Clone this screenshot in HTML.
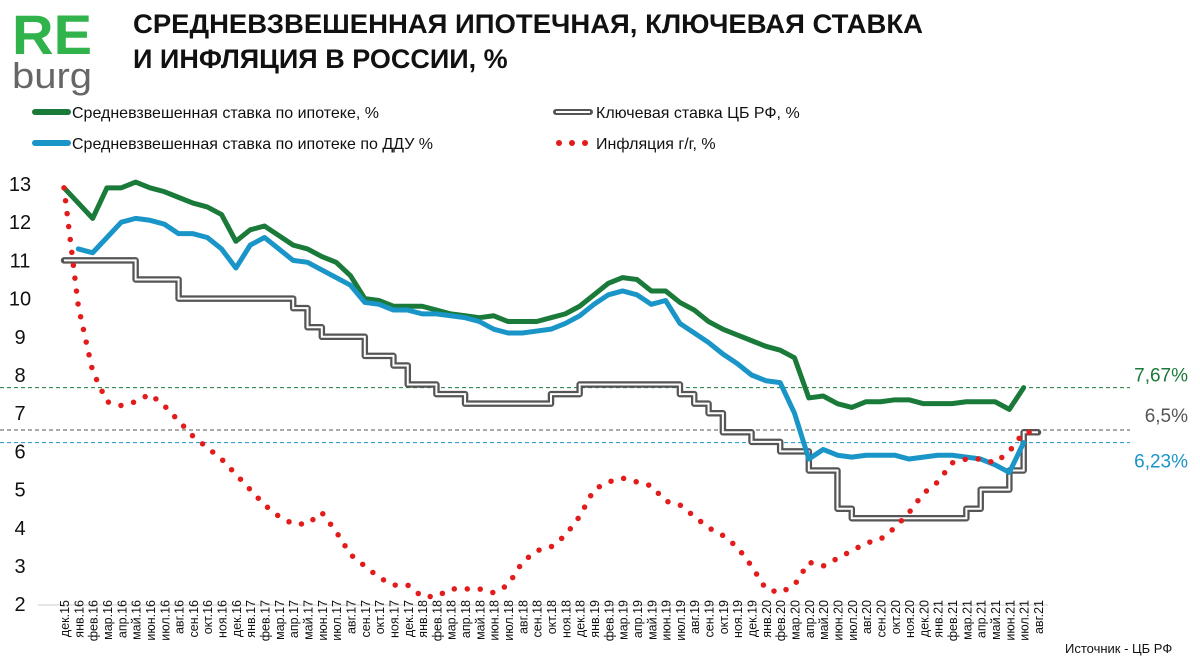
<!DOCTYPE html>
<html><head><meta charset="utf-8">
<style>
body{margin:0;background:#fff;font-family:"Liberation Sans","Noto Sans CJK SC",sans-serif;}
#wrap{position:relative;width:1200px;height:670px;overflow:hidden;}
svg text{font-family:"Liberation Sans","Noto Sans CJK SC",sans-serif;}
</style></head><body>
<div id="wrap">
<svg id="chart" width="1200" height="670">
  <text x="12" y="54" font-size="56" font-weight="bold" fill="#2fb34a" textLength="80" lengthAdjust="spacingAndGlyphs">RE</text>
  <text x="12" y="88" font-size="36" fill="#666" textLength="80" lengthAdjust="spacingAndGlyphs">burg</text>
  <text x="133" y="33" font-size="27" font-weight="bold" fill="#111" textLength="790" lengthAdjust="spacingAndGlyphs">СРЕДНЕВЗВЕШЕННАЯ ИПОТЕЧНАЯ, КЛЮЧЕВАЯ СТАВКА</text>
  <text x="133" y="68" font-size="27" font-weight="bold" fill="#111">И ИНФЛЯЦИЯ В РОССИИ, %</text>
  <g>
    <g>
      <line x1="35" y1="112" x2="68" y2="112" stroke="#1a7a3a" stroke-width="6" stroke-linecap="round"/>
      <text x="72" y="118" font-size="16" fill="#111">Средневзвешенная ставка по ипотеке, %</text>
    </g>
    <g>
      <line x1="35" y1="143" x2="68" y2="143" stroke="#1a95c8" stroke-width="6" stroke-linecap="round"/>
      <text x="72" y="149" font-size="16" fill="#111">Средневзвешенная ставка по ипотеке по ДДУ %</text>
    </g>
    <g>
      <line x1="556" y1="112" x2="590" y2="112" stroke="#555" stroke-width="6" stroke-linecap="round"/>
      <line x1="556" y1="112" x2="590" y2="112" stroke="#fff" stroke-width="2"/>
      <text x="596" y="118" font-size="16" fill="#111">Ключевая ставка ЦБ РФ, %</text>
    </g>
    <g>
      <circle cx="559" cy="143" r="3" fill="#e21b1b"/><circle cx="572" cy="143" r="3" fill="#e21b1b"/><circle cx="585" cy="143" r="3" fill="#e21b1b"/>
      <text x="596" y="149" font-size="16" fill="#111">Инфляция г/г,  %</text>
    </g>
  </g>
  <g id="plot"></g>
  <text x="1065" y="653" font-size="13" fill="#111">Источник  - ЦБ РФ</text>
</svg>
</div>
<script>
const months=["дек.15","янв.16","фев.16","мар.16","апр.16","май.16","июн.16","июл.16","авг.16","сен.16","окт.16","ноя.16","дек.16","янв.17","фев.17","мар.17","апр.17","май.17","июн.17","июл.17","авг.17","сен.17","окт.17","ноя.17","дек.17","янв.18","фев.18","мар.18","апр.18","май.18","июн.18","июл.18","авг.18","сен.18","окт.18","ноя.18","дек.18","янв.19","фев.19","мар.19","апр.19","май.19","июн.19","июл.19","авг.19","сен.19","окт.19","ноя.19","дек.19","янв.20","фев.20","мар.20","апр.20","май.20","июн.20","июл.20","авг.20","сен.20","окт.20","ноя.20","дек.20","янв.21","фев.21","мар.21","апр.21","май.21","июн.21","июл.21","авг.21"];
const yTicks=[2,3,4,5,6,7,8,9,10,11,12,13];
const mortgage=[12.9,12.5,12.1,12.9,12.9,13.05,12.9,12.8,12.65,12.5,12.4,12.2,11.5,11.8,11.9,11.65,11.4,11.3,11.1,10.95,10.6,10.0,9.95,9.8,9.8,9.8,9.7,9.6,9.55,9.5,9.55,9.4,9.4,9.4,9.5,9.6,9.8,10.1,10.4,10.55,10.5,10.2,10.2,9.9,9.7,9.4,9.2,9.05,8.9,8.75,8.65,8.45,7.4,7.45,7.25,7.15,7.3,7.3,7.35,7.35,7.25,7.25,7.25,7.3,7.3,7.3,7.1,7.67];
const ddu=[null,11.3,11.2,11.6,12.0,12.1,12.05,11.95,11.7,11.7,11.6,11.3,10.8,11.4,11.6,11.3,11.0,10.95,10.75,10.55,10.35,9.9,9.85,9.7,9.7,9.6,9.6,9.55,9.5,9.4,9.2,9.1,9.1,9.15,9.2,9.35,9.55,9.85,10.1,10.2,10.1,9.85,9.95,9.35,9.1,8.85,8.55,8.3,8.0,7.85,7.8,7.0,5.8,6.05,5.9,5.85,5.9,5.9,5.9,5.8,5.85,5.9,5.9,5.85,5.8,5.65,5.45,6.23];
const keyRate=[11,11,11,11,11,10.5,10.5,10.5,10,10,10,10,10,10,10,10,9.75,9.25,9,9,9,8.5,8.5,8.25,7.75,7.75,7.5,7.5,7.25,7.25,7.25,7.25,7.25,7.25,7.5,7.5,7.75,7.75,7.75,7.75,7.75,7.75,7.75,7.5,7.25,7.0,6.5,6.5,6.25,6.25,6.0,6.0,5.5,5.5,4.5,4.25,4.25,4.25,4.25,4.25,4.25,4.25,4.25,4.5,5.0,5.0,5.5,6.5,6.5];
const inflation=[12.9,9.8,8.1,7.3,7.2,7.3,7.5,7.2,6.8,6.4,6.1,5.8,5.4,5.0,4.6,4.3,4.1,4.1,4.4,3.9,3.3,3.0,2.7,2.5,2.5,2.2,2.2,2.4,2.4,2.4,2.3,2.5,3.1,3.4,3.5,3.8,4.3,5.0,5.2,5.3,5.2,5.1,4.7,4.6,4.3,4.0,3.8,3.5,3.0,2.4,2.3,2.5,3.1,3.0,3.2,3.4,3.6,3.7,4.0,4.4,4.9,5.2,5.7,5.8,5.8,5.7,6.0,6.5,6.5];
const refValues=[7.67,6.56,6.23];
const refLabels=["7,67%","6,5%","6,23%"];
const refColors=["#1a7a3a","#555","#1a95c8"];

const NS="http://www.w3.org/2000/svg";
const plot=document.getElementById('plot');
const X=i=>64+i*(974/68);
const Y=v=>184+(13-v)*38.2;
function mk(tag,attrs){const e=document.createElementNS(NS,tag);for(const k in attrs)e.setAttribute(k,attrs[k]);plot.appendChild(e);return e;}
function pathOf(arr,step){let d="",started=false;arr.forEach((v,i)=>{if(v==null)return;
  if(!started){d+="M"+X(i)+","+Y(v);started=true;}
  else if(step){d+="L"+X(i)+","+Y(arr[i-1])+"L"+X(i)+","+Y(v);}
  else d+="L"+X(i)+","+Y(v);});return d;}

const ax=mk('line',{x1:38,y1:605,x2:1048,y2:605,stroke:'#ddd','stroke-width':1.5});


yTicks.forEach(t=>{const e=mk('text',{x:20,y:Y(t)+7,'font-size':20,'text-anchor':'middle',fill:'#111'});e.textContent=t;
  
  });
months.forEach((m,i)=>{const e=mk('text',{x:0,y:0,'font-size':12.5,'text-anchor':'end',fill:'#111',transform:`translate(${X(i)+5},600) rotate(-90)`});e.textContent=m;
  
  });
refValues.forEach((v,k)=>{const l=mk('line',{x1:0,y1:Y(v),x2:1130,y2:Y(v),stroke:refColors[k],'stroke-width':1,'stroke-dasharray':'4,3'});
  
  
  const t=mk('text',{x:1188,y:Y(v)+(k==2?25:k==1?-8:-6),'font-size':19,'text-anchor':'end',fill:refColors[k]});t.textContent=refLabels[k];
  
  });
const k1=mk('path',{d:pathOf(keyRate,true),fill:'none',stroke:'#555','stroke-width':6.5,'stroke-linejoin':'round','stroke-linecap':'round'});


const k2=mk('path',{d:pathOf(keyRate,true),fill:'none',stroke:'#fff','stroke-width':2});


const g=mk('path',{d:pathOf(mortgage,false),fill:'none',stroke:'#1a7a3a','stroke-width':5,'stroke-linejoin':'round','stroke-linecap':'round'});


const b=mk('path',{d:pathOf(ddu,false),fill:'none',stroke:'#1a95c8','stroke-width':5,'stroke-linejoin':'round','stroke-linecap':'round'});


const r=mk('path',{d:pathOf(inflation,false),fill:'none',stroke:'#e21b1b','stroke-width':5.5,'stroke-linecap':'round','stroke-dasharray':'0,13'});


</script>
</body></html>
